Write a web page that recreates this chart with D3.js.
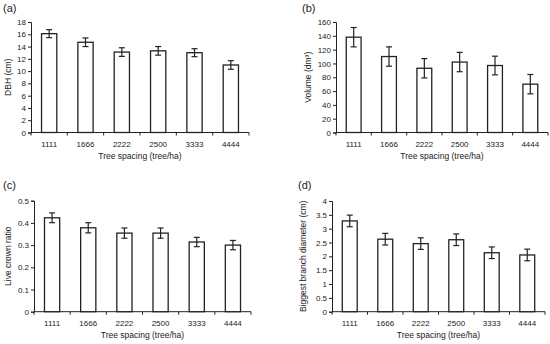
<!DOCTYPE html>
<html>
<head>
<meta charset="utf-8">
<script src="https://cdn.jsdelivr.net/npm/d3@7"></script>
<style>
  body { margin: 0; background: #fff; }
  svg { display: block; }
  text { font-family: "Liberation Sans", Arial, sans-serif; fill: #222; }
</style>
</head>
<body>
<div id="chart"></div>
<script>
// categories (tree spacing, tree/ha)
var spacing = ["1111", "1666", "2222", "2500", "3333", "4444"];

// (a) DBH
var dbhMean = [16.1, 14.7, 13.1, 13.3, 13.0, 11.0];
var dbhErr  = [0.65, 0.7, 0.7, 0.7, 0.65, 0.7];
// (b) volume
var volMean = [138, 110, 93, 102, 97, 70];
var volErr  = [14, 14, 14, 14, 13.5, 14];
// (c) live crown ratio
var lcrMean = [0.423, 0.378, 0.354, 0.354, 0.314, 0.300];
var lcrErr  = [0.022, 0.023, 0.023, 0.023, 0.021, 0.021];
// (d) biggest branch diameter
var bbdMean = [3.28, 2.62, 2.46, 2.60, 2.13, 2.05];
var bbdErr  = [0.21, 0.21, 0.21, 0.21, 0.21, 0.21];

var panels = [
    {tag: "(a)", ylab: "DBH (cm)", mean: dbhMean, err: dbhErr, max: 18, step: 2,
        left: 31, right: 249, top: 22, bottom: 132.5, tagX: 3, tagY: 12, ylabX: 8},
    {tag: "(b)", ylab: "Volume (dm³)", mean: volMean, err: volErr, max: 160, step: 20,
        left: 336, right: 548, top: 22, bottom: 132.5, tagX: 302, tagY: 12, ylabX: 308},
    {tag: "(c)", ylab: "Live crown ratio", mean: lcrMean, err: lcrErr, max: 0.5, step: 0.1,
        left: 34, right: 251, top: 200.7, bottom: 311.7, tagX: 3, tagY: 189, ylabX: 8},
    {tag: "(d)", ylab: "Biggest branch diameter (cm)", mean: bbdMean, err: bbdErr, max: 4, step: 0.5,
        left: 332, right: 545, top: 201, bottom: 311.7, tagX: 298, tagY: 189, ylabX: 303}
];

var svg = d3.select("#chart").append("svg")
        .attr("width", 550)
        .attr("height", 344);

panels.forEach(function (p) {
    var g = svg.append("g");

    var x = d3.scaleBand()
            .domain(spacing)
            .range([p.left, p.right])
            .paddingInner(0.58)
            .paddingOuter(0.29);

    var y = d3.scaleLinear()
            .domain([0, p.max])
            .range([p.bottom, p.top]);

    var tickVals = d3.range(0, p.max + p.step / 2, p.step);

    //y axis
    var yAxis = d3.axisLeft(y)
            .tickValues(tickVals)
            .tickSize(3)
            .tickFormat(function (d) { return String(+d.toFixed(2)); });
    var ya = g.append("g")
            .attr("transform", "translate(" + p.left + ",0)")
            .call(yAxis);
    ya.select(".domain").attr("stroke", "#222").attr("stroke-width", 1);
    ya.selectAll(".tick line").attr("stroke", "#222");
    ya.selectAll(".tick text")
            .attr("x", -5)
            .style("font-size", "8px")
            .style("font-family", "Liberation Sans, Arial, sans-serif")
            .attr("fill", "#222");

    //x axis baseline with ticks at band edges
    g.append("line")
            .attr("x1", p.left).attr("x2", p.right)
            .attr("y1", p.bottom).attr("y2", p.bottom)
            .attr("stroke", "#222");
    var edges = spacing.map(function (c) { return x(c) - x.step() * x.paddingInner() / 2; });
    edges.push(p.right);
    g.selectAll(".xtick").data(edges).enter()
            .append("line")
            .attr("class", "xtick")
            .attr("x1", function (d) { return d; })
            .attr("x2", function (d) { return d; })
            .attr("y1", p.bottom).attr("y2", p.bottom + 3)
            .attr("stroke", "#222");

    g.selectAll(".xlab").data(spacing).enter()
            .append("text")
            .attr("x", function (d) { return x(d) + x.bandwidth() / 2; })
            .attr("y", p.bottom + 14)
            .attr("text-anchor", "middle")
            .style("font-size", "8px")
            .text(function (d) { return d; });

    //bars
    g.selectAll(".bar").data(spacing).enter()
            .append("rect")
            .attr("x", function (d) { return x(d); })
            .attr("width", x.bandwidth())
            .attr("y", function (d, i) { return y(p.mean[i]); })
            .attr("height", function (d, i) { return p.bottom - y(p.mean[i]); })
            .attr("fill", "#fff")
            .attr("stroke", "#222")
            .attr("stroke-width", 1.3);

    //error bars
    var eb = g.selectAll(".err").data(spacing).enter()
            .append("g")
            .attr("transform", function (d) {
                return "translate(" + (x(d) + x.bandwidth() / 2) + ",0)";
            });
    eb.append("line")
            .attr("y1", function (d, i) { return y(p.mean[i] + p.err[i]); })
            .attr("y2", function (d, i) { return y(p.mean[i] - p.err[i]); })
            .attr("stroke", "#222").attr("stroke-width", 1.2);
    [1, -1].forEach(function (s) {
        eb.append("line")
                .attr("x1", -3).attr("x2", 3)
                .attr("y1", function (d, i) { return y(p.mean[i] + s * p.err[i]); })
                .attr("y2", function (d, i) { return y(p.mean[i] + s * p.err[i]); })
                .attr("stroke", "#222").attr("stroke-width", 1.2);
    });

    //titles
    g.append("text")
            .attr("x", (p.left + p.right) / 2)
            .attr("y", p.bottom + 26)
            .attr("text-anchor", "middle")
            .style("font-size", "8.5px")
            .text("Tree spacing (tree/ha)");

    g.append("text")
            .attr("transform", "translate(" + (p.ylabX + 3) + "," + ((p.top + p.bottom) / 2) + ") rotate(-90)")
            .attr("text-anchor", "middle")
            .style("font-size", "8.5px")
            .text(p.ylab);

    g.append("text")
            .attr("x", p.tagX)
            .attr("y", p.tagY)
            .style("font-size", "11px")
            .text(p.tag);
});
</script>
</body>
</html>
